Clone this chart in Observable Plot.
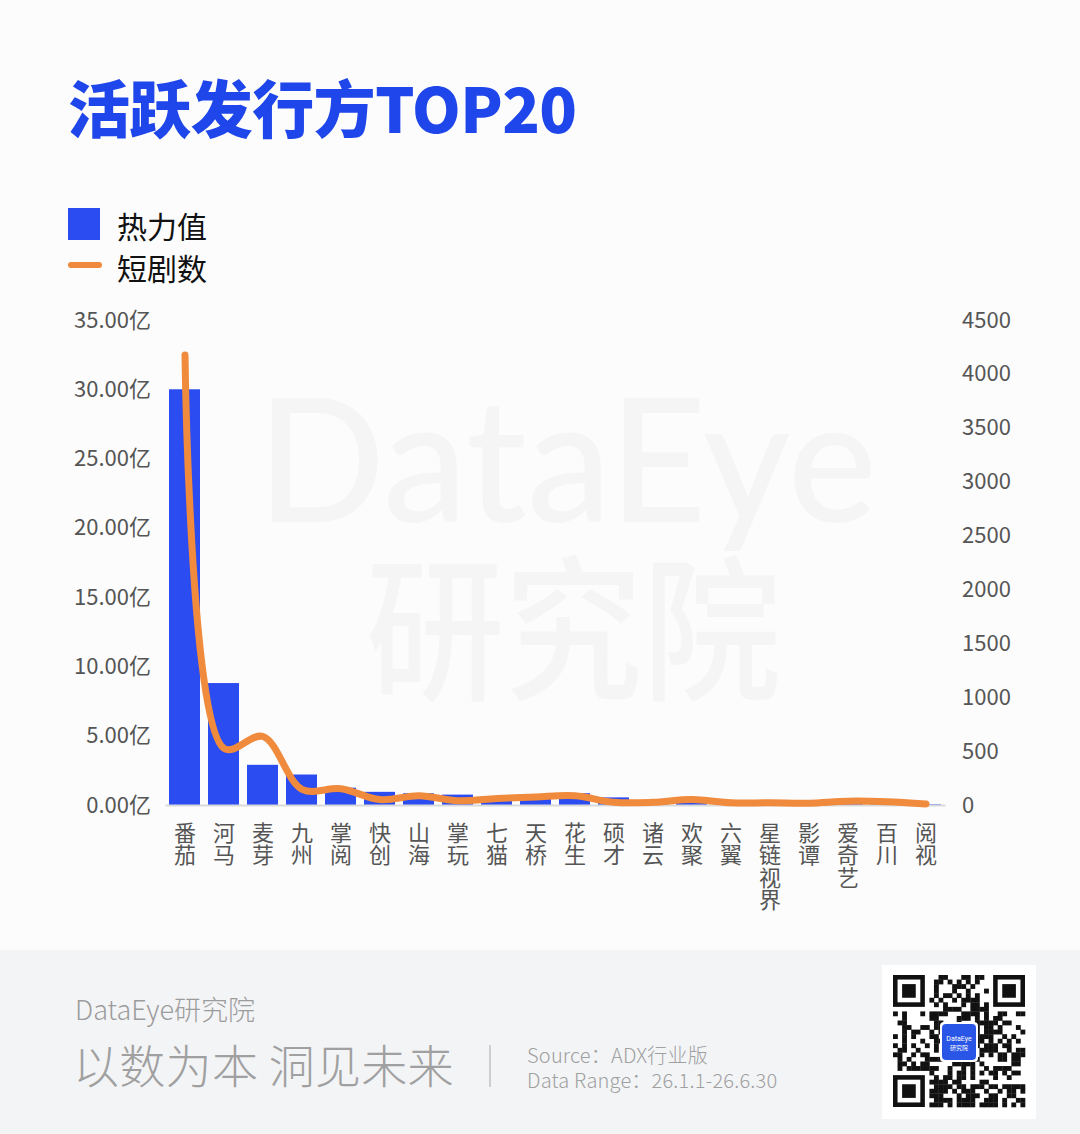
<!DOCTYPE html>
<html><head><meta charset="utf-8">
<script src="https://cdn.jsdelivr.net/npm/d3@7"></script>
<script src="https://cdn.jsdelivr.net/npm/@observablehq/plot@0.6"></script>
<style>
html,body{margin:0;padding:0;background:#fcfcfc;}
#page{position:relative;width:1080px;height:1134px;overflow:hidden;background:#fcfcfc;font-family:"Noto Sans CJK SC","Noto Sans",sans-serif;}
#title{position:absolute;left:68px;top:72px;font-size:62px;font-weight:900;color:#1f46ea;letter-spacing:-0.6px;white-space:nowrap;line-height:1.1;}
.leg{position:absolute;left:117px;font-size:30px;color:#111;line-height:1;}
#sq{position:absolute;left:68px;top:208px;width:32px;height:32px;background:#2a4cf0;}
#ln{position:absolute;left:68px;top:262px;width:34px;height:6px;border-radius:3px;background:#f08a3c;}
#wm{position:absolute;left:0;top:0;}
#chart{position:absolute;left:0;top:300px;}
#footer{position:absolute;left:0;top:950px;width:1080px;height:184px;background:#f3f4f6;}
#f1{position:absolute;left:75px;top:45px;font-size:27px;font-weight:300;color:#9c9c9c;line-height:1;}
#f2{position:absolute;left:73px;top:90px;font-size:46px;font-weight:300;color:#a0a0a0;line-height:1;letter-spacing:0.3px;white-space:nowrap;}
#div{position:absolute;left:489px;top:95px;width:2px;height:42px;background:#cfcfcf;}
.f3{position:absolute;left:527px;font-size:20px;font-weight:300;color:#a0a0a0;line-height:22px;height:22px;white-space:nowrap;letter-spacing:0.2px;}
#qr{position:absolute;left:882px;top:15px;}
</style></head>
<body>
<div id="page">
  <svg id="wm" width="1080" height="950"></svg>
  <div id="title">活跃发行方TOP20</div>
  <div id="sq"></div><div class="leg" style="top:210px">热力值</div>
  <div id="ln"></div><div class="leg" style="top:252px">短剧数</div>
  <div id="chart"></div>
  <div id="footer">
    <div id="f1">DataEye研究院</div>
    <div id="f2">以数为本 洞见未来</div>
    <div id="div"></div>
    <div class="f3" style="top:94px">Source：ADX行业版</div>
    <div class="f3" style="top:119px">Data Range：26.1.1-26.6.30</div>
    <svg id="qr" width="154" height="154"></svg>
  </div>
</div>
<script>
const names = ["番茄","河马","麦芽","九州","掌阅","快创","山海","掌玩","七猫","天桥","花生","硕才","诸云","欢聚","六翼","星链视界","影谭","爱奇艺","百川","阅视"];
const heat = [30.0, 8.8, 2.9, 2.2, 1.25, 0.95, 0.85, 0.75, 0.6, 0.7, 0.85, 0.55, 0.2, 0.15, 0.12, 0.1, 0.08, 0.07, 0.06, 0.05];
const dramas = [4180, 530, 640, 150, 155, 55, 90, 45, 65, 80, 90, 30, 30, 55, 25, 25, 22, 40, 35, 15];
const leftTicks = [0, 5, 10, 15, 20, 25, 30, 35];
const rightTicks = [0, 500, 1000, 1500, 2000, 2500, 3000, 3500, 4000, 4500];
const leftMax = 35, rightMax = 4500;

const data = names.map((n, i) => ({name: n, heat: heat[i], drama: dramas[i]}));
const toLeft = v => v * leftMax / rightMax;

const chart = Plot.plot({
  width: 1080, height: 640,
  marginTop: 20, marginBottom: 135, marginLeft: 165.5, marginRight: 134.5,
  style: {fontFamily: "'Noto Sans CJK SC', 'Noto Sans', sans-serif", fontSize: "22px", color: "#555", background: "transparent", overflow: "visible"},
  x: {domain: names, paddingInner: 0.2, paddingOuter: 0.1, label: null},
  y: {domain: [0, leftMax], label: null},
  marks: [
    Plot.barY(data, {x: "name", y: "heat", fill: "#2a4cf0"}),
    Plot.ruleY([0], {stroke: "#d9d9d9", strokeWidth: 2}),
    Plot.line(data, {x: "name", y: d => toLeft(d.drama), stroke: "#f08a3c", strokeWidth: 7, curve: "catmull-rom", strokeLinecap: "round", strokeLinejoin: "round"}),
    Plot.axisY(leftTicks, {anchor: "left", tickSize: 0, tickPadding: 15, tickFormat: d => d.toFixed(2) + "亿", fontSize: 22, label: null}),
    Plot.axisY(rightTicks.map(toLeft), {anchor: "right", tickSize: 0, tickPadding: 16, tickFormat: (d, i) => String(rightTicks[i]), fontSize: 22, label: null}),
    Plot.axisX({tickSize: 0, tickPadding: 16, fontSize: 22, label: null})
  ]
});
// render category labels in vertical (top-to-bottom) writing mode
chart.querySelectorAll('g[aria-label="x-axis tick label"] text').forEach(t => {
  t.setAttribute("y", "0");
  t.removeAttribute("dy");
  t.setAttribute("text-anchor", "start");
  t.setAttribute("style", "writing-mode: vertical-rl; text-orientation: upright; letter-spacing: 0.5px;");
});
document.getElementById("chart").appendChild(chart);

// watermark (one text element, two lines)
const ns = "http://www.w3.org/2000/svg";
const wm = document.getElementById("wm");
const wt = document.createElementNS(ns, "text");
wt.setAttribute("fill", "#f5f5f5");
function addSpan(txt, attrs) {
  const s = document.createElementNS(ns, "tspan");
  for (const k in attrs) s.setAttribute(k, attrs[k]);
  s.textContent = txt;
  wt.appendChild(s);
}
addSpan("DataEye", {x: 257, y: 522, "font-size": 172, "font-family": "Lato, Roboto, sans-serif", "font-weight": 500, textLength: 620, lengthAdjust: "spacingAndGlyphs"});
addSpan("研究院", {x: 366, y: 688, "font-size": 156, "font-family": "'Noto Sans CJK SC', sans-serif", "font-weight": 500, textLength: 415, lengthAdjust: "spacingAndGlyphs"});
wm.appendChild(wt);

// decorative QR-like box
const qr = document.getElementById("qr");
function rect(x, y, w, h, fill, rx) {
  const r = document.createElementNS(ns, "rect");
  r.setAttribute("x", x); r.setAttribute("y", y); r.setAttribute("width", w); r.setAttribute("height", h);
  r.setAttribute("fill", fill); if (rx) r.setAttribute("rx", rx);
  qr.appendChild(r);
}
rect(0, 0, 154, 154, "#ffffff");
const N = 29, cell = 132 / N, ox = 11, oy = 10;
let seed = 12345;
function bit() { seed = (seed * 1103515245 + 12345) & 0x7fffffff; return (seed >> 16) & 1; }
for (let r = 0; r < N; r++) for (let c = 0; c < N; c++) {
  const inFinder = (r < 8 && c < 8) || (r < 8 && c >= N - 8) || (r >= N - 8 && c < 8);
  if (inFinder) continue;
  if (bit()) rect(ox + c * cell, oy + r * cell, cell + 0.3, cell + 0.3, "#111");
}
for (const [fr, fc] of [[0, 0], [0, N - 7], [N - 7, 0]]) {
  rect(ox + fc * cell, oy + fr * cell, 7 * cell, 7 * cell, "#111");
  rect(ox + (fc + 1) * cell, oy + (fr + 1) * cell, 5 * cell, 5 * cell, "#fff");
  rect(ox + (fc + 2) * cell, oy + (fr + 2) * cell, 3 * cell, 3 * cell, "#111");
}
rect(58, 57, 38, 40, "#fff", 4);
rect(60, 59, 34, 36, "#2a56e8", 4);
const lg = document.createElementNS(ns, "text");
lg.setAttribute("x", 77); lg.setAttribute("y", 76); lg.setAttribute("font-size", 7); lg.setAttribute("fill", "#fff");
lg.setAttribute("text-anchor", "middle"); lg.setAttribute("font-family", "Roboto, sans-serif"); lg.textContent = "DataEye";
qr.appendChild(lg);
const lg2 = document.createElementNS(ns, "text");
lg2.setAttribute("x", 77); lg2.setAttribute("y", 85); lg2.setAttribute("font-size", 6); lg2.setAttribute("fill", "#fff");
lg2.setAttribute("text-anchor", "middle"); lg2.setAttribute("font-family", "'Noto Sans CJK SC', sans-serif"); lg2.textContent = "研究院";
qr.appendChild(lg2);
</script>
</body></html>
